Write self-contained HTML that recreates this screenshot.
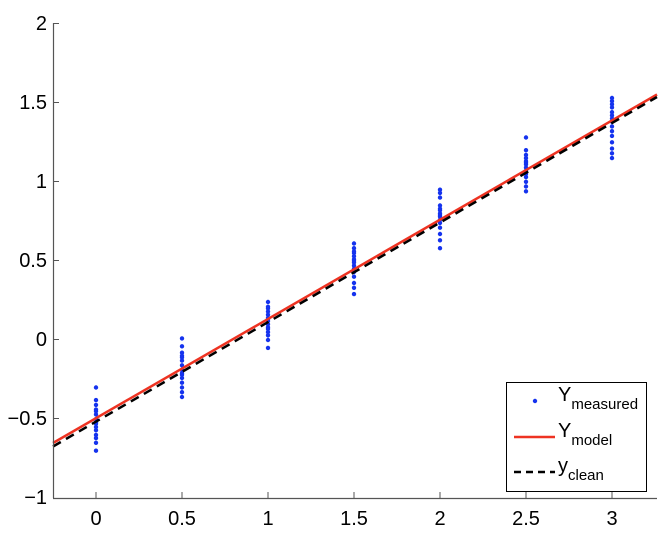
<!DOCTYPE html>
<html><head><style>html,body{margin:0;padding:0;background:#fff}</style></head><body>
<svg width="668" height="536" viewBox="0 0 668 536" xmlns="http://www.w3.org/2000/svg" font-family="Liberation Sans, sans-serif">
<rect width="668" height="536" fill="#fff"/>
<path stroke="#1533ee" stroke-width="4.4" stroke-linecap="round" fill="none" d="
M96 387.5h0M96 400.1h0M96 404.9h0M96 409.6h0M96 414.4h0M96 419.1h0M96 422.3h0M96 427h0M96 430.2h0M96 434.9h0M96 438.1h0M96 442.8h0M96 450.7h0M96 411.2h0M96 423.8h0
M182 338.4h0M182 346.3h0M182 352.7h0M182 357.4h0M182 360.6h0M182 365.3h0M182 370.1h0M182 373.2h0M182 378h0M182 382.7h0M182 387.5h0M182 392.2h0M182 397h0M182 355.8h0M182 374.8h0
M268 302h0M268 306.8h0M268 311.5h0M268 314.7h0M268 317.9h0M268 321h0M268 324.2h0M268 327.3h0M268 332.1h0M268 335.3h0M268 340h0M268 347.9h0M268 308.4h0M268 319.4h0M268 328.9h0
M354 243.5h0M354 248.2h0M354 251.4h0M354 256.2h0M354 259.3h0M354 262.5h0M354 265.6h0M354 268.8h0M354 272h0M354 276.7h0M354 283h0M354 287.8h0M354 294.1h0M354 253h0M354 260.9h0
M440 189.7h0M440 192.9h0M440 197.6h0M440 205.5h0M440 210.3h0M440 213.4h0M440 216.6h0M440 219.8h0M440 222.9h0M440 227.7h0M440 234h0M440 240.3h0M440 248.2h0M440 215h0M440 208.7h0
M526 137.5h0M526 150.2h0M526 154.9h0M526 158.1h0M526 161.2h0M526 164.4h0M526 167.6h0M526 170.7h0M526 173.9h0M526 177.1h0M526 181.8h0M526 186.5h0M526 191.3h0M526 162.8h0M526 172.3h0
M612 98h0M612 101.1h0M612 104.3h0M612 107.4h0M612 112.2h0M612 115.4h0M612 118.5h0M612 121.7h0M612 126.4h0M612 131.2h0M612 135.9h0M612 142.3h0M612 148.6h0M612 153.3h0M612 158.1h0"/>
<line x1="53" y1="443" x2="657" y2="94.5" stroke="#ee3322" stroke-width="2.5"/>
<line x1="53" y1="446.5" x2="657" y2="97" stroke="#000" stroke-width="2.5" stroke-dasharray="9,6"/>
<g stroke="#555" stroke-width="1.2" fill="none">
<line x1="53.5" y1="23" x2="53.5" y2="498"/>
<line x1="53" y1="498.5" x2="657" y2="498.5"/>
</g>
<g stroke="#555" stroke-width="1">
<line x1="53" y1="23.5" x2="59" y2="23.5"/><line x1="53" y1="102.5" x2="59" y2="102.5"/>
<line x1="53" y1="181.5" x2="59" y2="181.5"/><line x1="53" y1="260.5" x2="59" y2="260.5"/>
<line x1="53" y1="339.5" x2="59" y2="339.5"/><line x1="53" y1="418.5" x2="59" y2="418.5"/>
<line x1="96" y1="498" x2="96" y2="492"/><line x1="182" y1="498" x2="182" y2="492"/>
<line x1="268" y1="498" x2="268" y2="492"/><line x1="354" y1="498" x2="354" y2="492"/>
<line x1="440" y1="498" x2="440" y2="492"/><line x1="526" y1="498" x2="526" y2="492"/>
<line x1="612" y1="498" x2="612" y2="492"/>
</g>
<g font-size="20" fill="#000" text-anchor="end">
<text x="47" y="30">2</text><text x="47" y="109">1.5</text><text x="47" y="188">1</text>
<text x="47" y="267">0.5</text><text x="47" y="346">0</text><text x="47" y="425">−0.5</text><text x="47" y="504">−1</text>
</g>
<g font-size="20" fill="#000" text-anchor="middle">
<text x="96" y="525">0</text><text x="182" y="525">0.5</text><text x="268" y="525">1</text><text x="354" y="525">1.5</text>
<text x="440" y="525">2</text><text x="526" y="525">2.5</text><text x="612" y="525">3</text>
</g>
<rect x="506.5" y="382.5" width="140" height="109" fill="#fff" stroke="#000" stroke-width="1"/>
<circle cx="535" cy="401" r="2.2" fill="#1533ee"/>
<line x1="514" y1="437" x2="555" y2="437" stroke="#ee3322" stroke-width="2.5"/>
<line x1="514" y1="472" x2="555" y2="472" stroke="#000" stroke-width="2.5" stroke-dasharray="7,5"/>
<g font-size="20" fill="#000">
<text x="558" y="401">Y<tspan font-size="15" dy="8">measured</tspan></text>
<text x="558" y="437">Y<tspan font-size="15" dy="8">model</tspan></text>
<text x="558" y="472">y<tspan font-size="15" dy="8">clean</tspan></text>
</g>
</svg>
</body></html>
